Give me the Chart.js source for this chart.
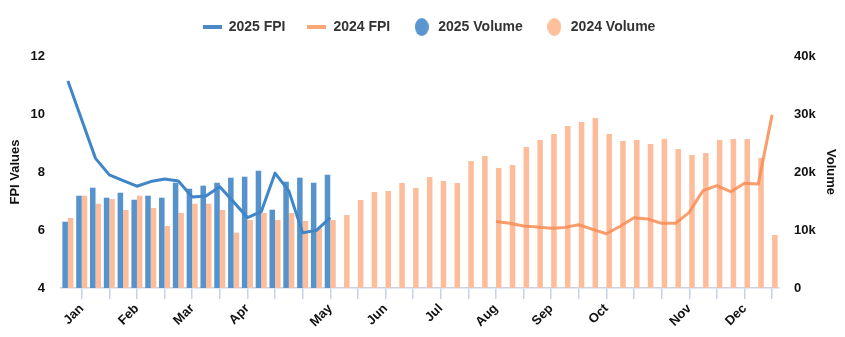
<!DOCTYPE html>
<html>
<head>
<meta charset="utf-8">
<script src="https://cdn.jsdelivr.net/npm/chart.js@4.4.1/dist/chart.umd.min.js"></script>
<style>
html, body { margin: 0; padding: 0; background: #ffffff; }
#wrap { width: 845px; height: 337px; position: relative; }
</style>
</head>
<body>
<div id="wrap"><canvas id="c" width="845" height="337"></canvas></div>
<script>
const categories = ['', 'Jan', '', '', '', 'Feb', '', '', '', 'Mar', '', '', '', 'Apr', '', '', '', '', '', 'May',
  '', '', '', 'Jun', '', '', '', 'Jul', '', '', '', 'Aug', '', '', '', 'Sep', '', '', '', 'Oct',
  '', '', '', '', '', 'Nov', '', '', '', 'Dec', '', ''];

const fpi2025 = [11.14, 9.8, 8.47, 7.9, 7.7, 7.51, 7.67, 7.76, 7.69, 7.14, 7.17, 7.49, 6.97, 6.43, 6.63, 7.96, 7.35, 5.9, 5.99, 6.43];

const fpi2024 = [null, null, null, null, null, null, null, null, null, null,
  null, null, null, null, null, null, null, null, null, null,
  null, null, null, null, null, null, null, null, null, null, null,
  6.29, 6.23, 6.14, 6.10, 6.06, 6.09, 6.18, 6.02, 5.87, 6.13,
  6.42, 6.38, 6.23, 6.23, 6.61, 7.36, 7.53, 7.32, 7.61, 7.59, 9.97];

const volume2025 = [11430, 15910, 17290, 15570, 16430, 15220, 15910, 15570, 18150, 17120,
  17640, 18150, 19020, 19190, 20220, 13500, 18330, 19020, 18150, 19530];

const volume2024 = [12070, 15910, 14530, 15340, 13450, 15910, 13790, 10690, 12930, 14530,
  14530, 13450, 9540, 11720, 12930, 11720, 12930, 11550, 10300, 11720,
  12590, 15170, 16550, 16720, 18100, 17240, 19140, 18450, 18100, 21890,
  22760, 20690, 21210, 24310, 25520, 26550, 27930, 28620, 29310, 26550,
  25340, 25520, 24830, 25690, 23960, 22930, 23270, 25520, 25690, 25690, 22410, 9140];

const fpiTicks = [4, 6, 8, 10, 12];
const volumeTicks = [0, 10000, 20000, 30000, 40000];

const FONT = "'Liberation Sans', Arial, sans-serif";
const AXIS_COLOR = '#c8d2e6';

function lineMarker(color) {
  const c = document.createElement('canvas');
  c.width = 19; c.height = 4;
  const g = c.getContext('2d');
  g.fillStyle = color;
  g.fillRect(0, 0, 19, 4);
  return c;
}
function ellipseMarker(color) {
  const c = document.createElement('canvas');
  c.width = 14; c.height = 18;
  const g = c.getContext('2d');
  g.fillStyle = color;
  g.beginPath();
  g.ellipse(7, 9, 7, 9, 0, 0, Math.PI * 2);
  g.fill();
  return c;
}

const legendTweak = {
  id: 'legendTweak',
  beforeLayout(chart) {
    const lg = chart.legend;
    if (lg && !lg._patched) {
      const f = lg.fit;
      lg.fit = function () { f.call(this); this.height = 56; };
      lg._patched = true;
    }
  },
  afterLayout(chart) {
    const lg = chart.legend;
    if (lg) { lg.left += 6.5; lg.right += 6.5; lg.top -= 2; lg.bottom -= 2; }
  }
};

new Chart(document.getElementById('c'), {
  type: 'bar',
  data: {
    labels: categories,
    datasets: [
      {
        type: 'line', label: '2025 FPI', data: fpi2025, yAxisID: 'y',
        borderColor: '#3f86c9', borderWidth: 3, tension: 0, pointRadius: 0, pointHoverRadius: 0,
        pointStyle: lineMarker('#4a88c7'),
        borderJoinStyle: 'round', spanGaps: false
      },
      {
        type: 'line', label: '2024 FPI', data: fpi2024, yAxisID: 'y',
        borderColor: 'rgba(249,140,82,0.85)', borderWidth: 3, tension: 0, pointRadius: 0, pointHoverRadius: 0,
        pointStyle: lineMarker('#fba676'),
        borderJoinStyle: 'round', spanGaps: false
      },
      {
        type: 'bar', label: '2025 Volume', data: volume2025, yAxisID: 'y1',
        backgroundColor: '#5693cd', borderWidth: 0, pointStyle: ellipseMarker('#5b95cf'),
        categoryPercentage: 0.8, barPercentage: 1.0
      },
      {
        type: 'bar', label: '2024 Volume', data: volume2024, yAxisID: 'y1',
        backgroundColor: '#fdbd9b', borderWidth: 0, pointStyle: ellipseMarker('#fdbf9c'),
        categoryPercentage: 0.8, barPercentage: 1.0
      }
    ]
  },
  plugins: [legendTweak],
  options: {
    responsive: false,
    animation: false,
    layout: { padding: { top: 0, left: 0, right: 0, bottom: 0 } },
    plugins: {
      tooltip: { enabled: false },
      legend: {
        position: 'top',
        align: 'center',
        labels: {
          usePointStyle: true,
          pointStyleWidth: 19,
          boxHeight: 13,
          padding: 22,
          color: '#333',
          font: { family: FONT, size: 14, weight: 'bold' }
        }
      }
    },
    scales: {
      x: {
        type: 'category',
        offset: true,
        grid: {
          display: true, drawOnChartArea: false, drawTicks: true, tickLength: 11, offset: false,
          color: (ctx) => (ctx.index % 2 === 1 ? AXIS_COLOR : 'rgba(0,0,0,0)'), lineWidth: 1.5
        },
        border: { display: true, color: AXIS_COLOR, width: 1.5 },
        ticks: {
          autoSkip: false, maxRotation: 45, minRotation: 45, padding: 2,
          color: '#111', font: { family: FONT, size: 13, weight: 'bold' }
        },
        afterFit: (scale) => { scale.height = 49; }
      },
      y: {
        position: 'left', min: 4, max: 12,
        afterBuildTicks: (scale) => { scale.ticks = fpiTicks.map(v => ({ value: v })); },
        grid: { display: false, drawTicks: false },
        border: { display: false },
        ticks: { padding: 16, color: '#111', font: { family: FONT, size: 13, weight: 'bold' } },
        title: { display: true, text: 'FPI Values', color: '#111', padding: { top: 8, bottom: 0 },
          font: { family: FONT, size: 13, weight: 'bold' } },
        afterFit: (scale) => { scale.width = 61; }
      },
      y1: {
        position: 'right', min: 0, max: 40000,
        afterBuildTicks: (scale) => { scale.ticks = volumeTicks.map(v => ({ value: v })); },
        grid: { display: false, drawTicks: false },
        border: { display: false },
        ticks: { padding: 15, color: '#111', font: { family: FONT, size: 13, weight: 'bold' },
          callback: (v) => (v === 0 ? '0' : (v / 1000) + 'k') },
        title: { display: true, text: 'Volume', color: '#111', padding: { top: 7, bottom: 0 },
          font: { family: FONT, size: 13, weight: 'bold' } },
        afterFit: (scale) => { scale.width = 66; }
      }
    }
  }
});
</script>
</body>
</html>
